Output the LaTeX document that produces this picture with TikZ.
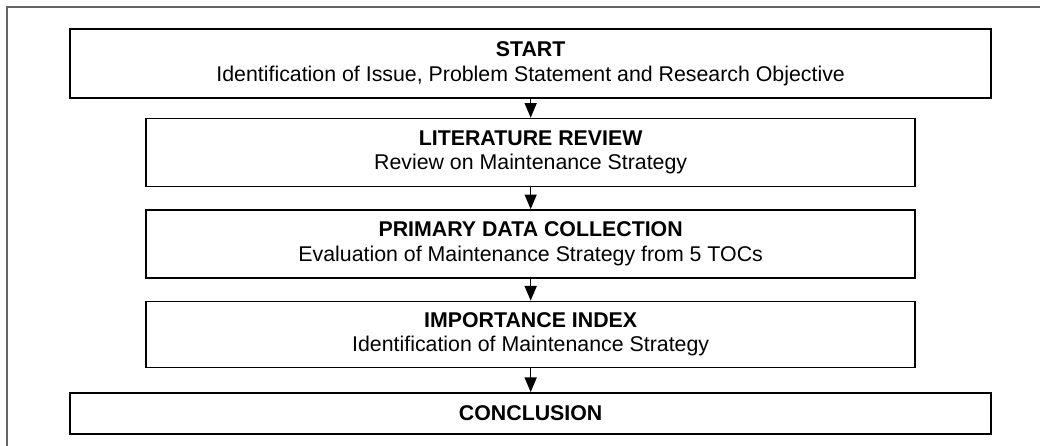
\documentclass[tikz,border=0pt]{standalone}
\usepackage{fontspec}
\setmainfont{Liberation Sans}
\usepackage{tikz}
\usetikzlibrary{arrows.meta}
\usetikzlibrary{positioning}

\begin{document}
\begin{tikzpicture}[every node/.style={draw,line width=1.1pt,align=center,inner sep=0pt,font=\fontsize{16}{18.5}\selectfont},
  wide/.style={minimum width=690.75pt},
  narrow/.style={minimum width=576.75pt},
  flow/.style={line width=1.1pt,-{Triangle[length=11pt,width=9pt]}}]
  \useasboundingbox (0,0) rectangle (780pt,-334.5pt);
  \draw[line width=1.5pt,black!60](5.6pt,-334.5pt)--(5.6pt,-4.9pt)--(780pt,-4.9pt);

  \node[wide,minimum height=51.75pt] (start) at (398pt,-47.6pt)
    {\textbf{START}\\Identification of Issue, Problem Statement and Research Objective};
  \node[narrow,minimum height=51pt,below=14.25pt of start] (review)
    {\textbf{LITERATURE REVIEW}\\Review on Maintenance Strategy};
  \node[narrow,minimum height=51pt,below=16.5pt of review] (data)
    {\textbf{PRIMARY DATA COLLECTION}\\Evaluation of Maintenance Strategy from 5 TOCs};
  \node[narrow,minimum height=49.5pt,below=16.5pt of data] (index)
    {\textbf{IMPORTANCE INDEX}\\Identification of Maintenance Strategy};
  \node[wide,minimum height=30.75pt,below=18pt of index] (concl)
    {\textbf{CONCLUSION}};

  \draw[flow](start)--(review);
  \draw[flow](review)--(data);
  \draw[flow](data)--(index);
  \draw[flow](index)--(concl);
\end{tikzpicture}
\end{document}
